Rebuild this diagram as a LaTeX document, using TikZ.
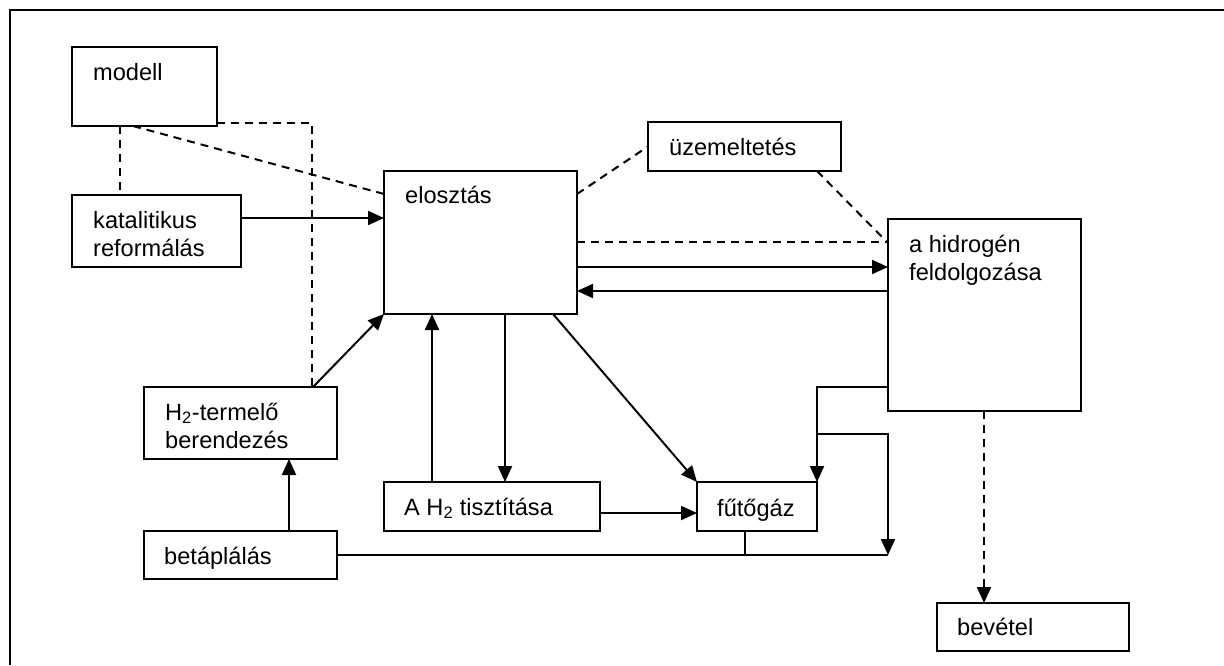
\documentclass[tikz,border=0pt]{standalone}
\usepackage{fontspec}
\setmainfont{Liberation Sans}
\usetikzlibrary{arrows.meta}
\begin{document}
\begin{tikzpicture}[x=1pt,y=-1pt,
  box/.style={draw,line width=2pt,rectangle,inner sep=0pt,outer sep=0pt,anchor=north west},
  lbl/.style={inner sep=0pt,anchor=base west,font=\fontsize{23.6}{28.3}\selectfont},
  conn/.style={line width=2pt},
  arr/.style={conn,-{Triangle[length=16pt,width=14pt]}},
  dsh/.style={conn,dash pattern=on 8pt off 6pt},
  darr/.style={dsh,-{Triangle[length=16pt,width=14pt]}},
  frame/.style={line width=2.8pt}]
\useasboundingbox (0,0) rectangle (1224,665);
\fill[white] (0,0) rectangle (1224,665);
\draw[frame] (1224,10) -- (10,10) -- (10,665);

% boxes
\node[box,minimum width=145pt,minimum height=79pt]  (modell)  at (72,47)   {};
\node[box,minimum width=169pt,minimum height=72pt]  (katal)   at (72,195)  {};
\node[box,minimum width=193pt,minimum height=143pt] (elos)    at (384,171) {};
\node[box,minimum width=193pt,minimum height=49pt]  (uzem)    at (648,122) {};
\node[box,minimum width=193pt,minimum height=192pt] (hidro)   at (888,219) {};
\node[box,minimum width=193pt,minimum height=72pt]  (htermelo) at (144,387) {};
\node[box,minimum width=193pt,minimum height=48pt]  (betap)   at (144,531) {};
\node[box,minimum width=216pt,minimum height=49pt]  (tiszt)   at (384,482) {};
\node[box,minimum width=120pt,minimum height=49pt]  (futo)    at (697,482) {};
\node[box,minimum width=192pt,minimum height=48pt]  (bevetel) at (937,603) {};

% labels
\node[lbl] (modellT)  at ([shift={(21,33)}]modell.north west) {modell};
\node[lbl] (katalT)   at ([shift={(21,33)}]katal.north west) {\begin{tabular}[t]{@{}l@{}}katalitikus\\reformálás\end{tabular}};
\node[lbl] (elosT)    at ([shift={(21,32)}]elos.north west) {elosztás};
\node[lbl] (uzemT)    at ([shift={(21,33)}]uzem.north west) {üzemeltetés};
\node[lbl] (hidroT)   at ([shift={(21,33)}]hidro.north west) {\begin{tabular}[t]{@{}l@{}}a hidrogén\\feldolgozása\end{tabular}};
\node[lbl] (htermeloT) at ([shift={(21,33)}]htermelo.north west) {\begin{tabular}[t]{@{}l@{}}H\textsubscript{2}-termelő\\berendezés\end{tabular}};
\node[lbl] (betapT)   at ([shift={(20,33)}]betap.north west) {betáplálás};
\node[lbl] (tisztT)   at ([shift={(20,33)}]tiszt.north west) {A H\textsubscript{2} tisztítása};
\node[lbl] (futoT)    at ([shift={(20,34)}]futo.north west) {fűtőgáz};
\node[lbl] (bevetelT) at ([shift={(20,32)}]bevetel.north west) {bevétel};

% dashed links
\draw[dsh] ([xshift=48pt]modell.south west) -- ([xshift=48pt]katal.north west);
\draw[dsh] ([xshift=61pt]modell.south west) -- ([yshift=-23pt]elos.north west);
\draw[dsh] ([yshift=3pt]modell.south east) -| ([xshift=168pt]htermelo.north west);
\draw[dsh] ([yshift=-23pt]elos.north east) -- (uzem.west);
\draw[dsh] ([xshift=169pt]uzem.south west) -- ([yshift=-24pt]hidro.north west);
\draw[dsh] ([yshift=-71pt]elos.north east) coordinate (e1) -- (e1 -| hidro.west);
\draw[darr] ([xshift=96pt]hidro.south west) -- ([xshift=47pt]bevetel.north west);

% arrows
\draw[arr] ([yshift=-23pt]katal.north east) coordinate (k1) -- (k1 -| elos.west);
\draw[arr] ([xshift=169pt]htermelo.north west) -- (elos.south west);
\draw[arr] ([xshift=145pt]betap.north west) -- ([xshift=145pt]htermelo.south west);
\draw[arr] ([xshift=48pt]tiszt.north west) -- ([xshift=48pt]elos.south west);
\draw[arr] ([xshift=121pt]elos.south west) -- ([xshift=121pt]tiszt.north west);
\draw[arr] ([xshift=169pt]elos.south west) -- (futo.north west);
\draw[arr] ([yshift=-31pt]tiszt.north east) coordinate (t1) -- (t1 -| futo.west);
\draw[arr] ([yshift=-96pt]elos.north east) coordinate (e2) -- (e2 -| hidro.west);
\draw[arr] ([yshift=-120pt]elos.north east) coordinate (e3) (e3 -| hidro.west) -- (e3);
\draw[arr] ([yshift=24pt]hidro.south west) -| (futo.north east);
\draw[arr] ([yshift=48pt]futo.north east) -| (hidro.west |- betap.east);
\draw[conn] (betap.east) -- (hidro.west |- betap.east);
\draw[conn] ([xshift=48pt]futo.south west) coordinate (f1) -- (f1 |- betap.east);
\end{tikzpicture}
\end{document}
